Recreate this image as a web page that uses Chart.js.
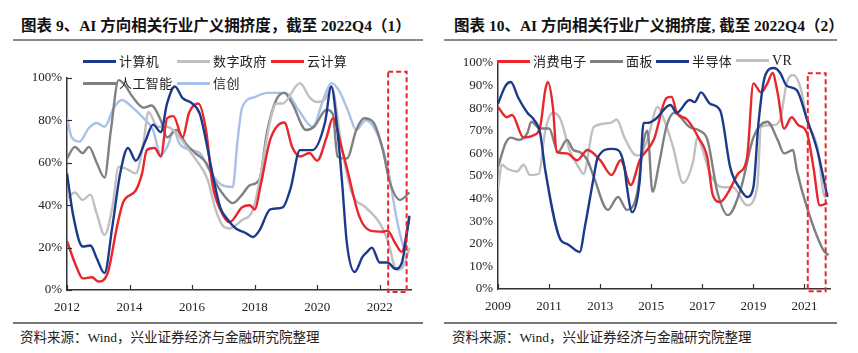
<!DOCTYPE html>
<html>
<head>
<meta charset="utf-8">
<script src="https://cdn.jsdelivr.net/npm/chart.js@4.4.1/dist/chart.umd.min.js"></script>
<style>
  body { margin: 0; background: #fff; }
  #page { position: relative; width: 858px; height: 353px; overflow: hidden; font-family: 'Liberation Serif', 'Noto Sans CJK SC', serif; color: #222; }
  .title { position: absolute; top: 13px; font-size: 15.5px; font-weight: bold; white-space: nowrap; color: #111; }
  .rule { position: absolute; height: 2px; background: #8a8a8a; }
  .src { position: absolute; top: 326px; font-size: 13.5px; white-space: nowrap; color: #222; }
  .box { position: absolute; top: 45px; height: 275px; }
  .leg { position: absolute; font-family: 'Noto Sans CJK SC', sans-serif; font-size: 13px; letter-spacing: 0.4px; white-space: nowrap; line-height: 16px; color: #222; }
  .leg i { display: inline-block; width: 33px; height: 3px; vertical-align: middle; margin-right: 3px; position: relative; top: -1px; }
  .leg.latin { font-family: 'Liberation Serif', serif; font-size: 14px; }
</style>
</head>
<body>
<div id="page">
  <div class="title" style="left:21px">图表 9、AI 方向相关行业广义拥挤度，截至 2022Q4（1）</div>
  <div class="title" style="left:454px">图表 10、AI 方向相关行业广义拥挤度, 截至 2022Q4（2）</div>
  <div class="rule" style="left:13px; width:410px; top:39px"></div>
  <div class="rule" style="left:444px; width:393px; top:39px"></div>

  <div class="box" style="left:0; width:430px"><canvas id="chart1"></canvas></div>
  <div class="box" style="left:430px; width:428px"><canvas id="chart2"></canvas></div>

  <div class="leg" style="left:83px; top:53px"><i style="background:#1B3A8C"></i>计算机</div>
  <div class="leg" style="left:177px; top:53px"><i style="background:#C0C0C0"></i>数字政府</div>
  <div class="leg" style="left:271px; top:53px"><i style="background:#E8262B"></i>云计算</div>
  <div class="leg" style="left:83px; top:75px"><i style="background:#808080"></i>人工智能</div>
  <div class="leg" style="left:177px; top:75px"><i style="background:#A9C1E8"></i>信创</div>

  <div class="leg" style="left:497px; top:53px"><i style="background:#E8262B"></i>消费电子</div>
  <div class="leg" style="left:590px; top:53px"><i style="background:#808080"></i>面板</div>
  <div class="leg" style="left:656px; top:53px"><i style="background:#1B3A8C"></i>半导体</div>
  <div class="leg latin" style="left:736px; top:53px"><i style="background:#C0C0C0"></i>VR</div>

  <div class="rule" style="left:13px; width:410px; top:322px; height:1.5px; background:#777"></div>
  <div class="rule" style="left:444px; width:393px; top:322px; height:1.5px; background:#777"></div>
  <div class="src" style="left:20px">资料来源：Wind，兴业证券经济与金融研究院整理</div>
  <div class="src" style="left:452px">资料来源：Wind，兴业证券经济与金融研究院整理</div>
</div>

<script>
// ---- chart 1 data (year, %) ----
const years1 = [2012, 2014, 2016, 2018, 2020, 2022];
const jsjT = [2012.0, 2012.2, 2012.5, 2012.75, 2012.95, 2013.2, 2013.45, 2013.7, 2013.95, 2014.2, 2014.5, 2014.75, 2015.0, 2015.2, 2015.45, 2015.7, 2016.0, 2016.25, 2016.45, 2016.65, 2016.9, 2017.15, 2017.4, 2017.7, 2017.95, 2018.15, 2018.5, 2018.9, 2019.15, 2019.45, 2019.85, 2020.25, 2020.45, 2020.65, 2020.8, 2020.95, 2021.2, 2021.45, 2021.6, 2021.75, 2022.0, 2022.25, 2022.5, 2022.7, 2022.95];
const jsjV = [55, 35, 20.5, 21, 15, 8, 30, 55, 67, 61, 70, 78, 74.5, 88, 96, 90.5, 88, 83, 70, 55, 39, 33, 29, 27, 25, 28, 38, 39, 48, 66, 66, 79, 96, 75, 50, 22, 8.5, 15.6, 18, 20, 13, 13, 10, 12.5, 35];

const szzfT = [2012.0, 2012.25, 2012.5, 2012.75, 2012.95, 2013.2, 2013.45, 2013.65, 2013.85, 2014.2, 2014.45, 2014.6, 2014.9, 2015.2, 2015.5, 2015.8, 2016.1, 2016.5, 2016.75, 2017.0, 2017.2, 2017.6, 2017.95, 2018.2, 2018.5, 2018.7, 2018.9, 2019.45, 2019.75, 2020.0, 2020.25, 2020.45, 2020.8, 2021.1, 2021.55, 2022.0, 2022.25, 2022.55, 2022.75, 2022.95];
const szzfV = [43, 46, 42.5, 45, 36, 26, 39, 58, 57.5, 55, 70, 84, 77, 77, 74, 68, 62, 52, 38, 30, 29, 33, 38, 55, 80, 88, 88, 97.6, 91, 88.7, 90, 96, 66, 46, 39, 31.6, 23.6, 9.4, 11, 20];

const yjsT = [2012.0, 2012.3, 2012.5, 2012.8, 2013.0, 2013.3, 2013.6, 2013.8, 2014.2, 2014.4, 2014.55, 2014.8, 2015.0, 2015.2, 2015.4, 2015.7, 2015.9, 2016.2, 2016.45, 2016.65, 2016.9, 2017.2, 2017.6, 2017.85, 2018.0, 2018.2, 2018.5, 2018.95, 2019.2, 2019.45, 2019.75, 2020.0, 2020.3, 2020.5, 2020.8, 2020.95, 2021.35, 2021.7, 2022.1, 2022.25, 2022.5, 2022.7, 2022.95];
const yjsV = [23, 11, 5.5, 6, 4, 8, 30, 41.5, 47, 55, 66, 67, 63, 81, 82, 72, 83.5, 88, 75, 50, 38, 32, 39, 40, 38, 50, 71, 79, 67.5, 63, 64.6, 61, 72, 81, 66, 57.5, 34.6, 28, 27.5, 28, 22, 18, 34];

const rgznT = [2012.0, 2012.25, 2012.5, 2012.7, 2012.95, 2013.2, 2013.4, 2013.65, 2013.85, 2014.1, 2014.45, 2014.7, 2015.0, 2015.2, 2015.5, 2015.8, 2016.1, 2016.45, 2016.7, 2017.0, 2017.3, 2017.6, 2017.85, 2018.15, 2018.4, 2018.7, 2018.95, 2019.2, 2019.65, 2019.9, 2020.3, 2020.5, 2020.65, 2020.95, 2021.25, 2021.5, 2021.8, 2022.1, 2022.3, 2022.65, 2022.95];
const rgznV = [62, 67.5, 64.6, 67.5, 60, 53, 75, 99, 96.7, 91, 86, 87, 80, 72, 75.5, 69, 64.6, 60, 52, 45, 41, 45, 49.5, 52, 75, 90, 93, 88, 75.5, 77, 85, 83, 63, 62, 75.5, 81, 79, 66, 52, 42.5, 46];

const xcT = [2012.0, 2012.15, 2012.4, 2012.7, 2012.95, 2013.2, 2013.5, 2013.75, 2014.1, 2014.45, 2014.75, 2015.0, 2015.25, 2015.4, 2015.6, 2015.95, 2016.25, 2016.55, 2016.9, 2017.3, 2017.45, 2017.6, 2018.0, 2018.4, 2019.0, 2019.4, 2019.85, 2020.2, 2020.45, 2020.7, 2021.0, 2021.25, 2021.55, 2022.0, 2022.25, 2022.55, 2022.75, 2022.95];
const xcV = [81.6, 72, 70, 76.4, 78.8, 77, 86, 89.6, 86, 81, 75.5, 63.7, 69, 75.5, 69, 66, 64.6, 56.6, 50, 48.6, 70, 86, 91, 93, 93, 85, 77, 90, 97.6, 94, 84, 75.5, 80, 71, 58, 33, 21, 18];

// ---- chart 2 data (year, %) ----
const years2 = [2009, 2011, 2013, 2015, 2017, 2019, 2021];
const xfdzT = [2009.0, 2009.35, 2009.55, 2010.0, 2010.4, 2010.65, 2010.85, 2010.95, 2011.15, 2011.3, 2011.7, 2012.1, 2012.5, 2013.0, 2013.45, 2013.8, 2014.2, 2014.55, 2015.1, 2015.6, 2015.8, 2016.0, 2016.4, 2016.85, 2017.2, 2017.4, 2017.7, 2018.0, 2018.4, 2018.75, 2019.0, 2019.3, 2019.55, 2019.75, 2019.95, 2020.2, 2020.5, 2020.75, 2021.1, 2021.35, 2021.6, 2021.9];
const xfdzV = [80.5, 76, 77, 67, 68, 71.7, 88, 91.6, 80.5, 60.6, 60, 57, 61.5, 57, 50.4, 57, 46, 57, 66, 84.5, 85, 78, 75, 67, 58, 42, 38.5, 42.5, 51, 58, 91, 87, 91, 95.6, 86.7, 71, 76, 72.6, 69, 54, 37, 38];

const mbT = [2009.0, 2009.3, 2009.5, 2009.8, 2010.15, 2010.3, 2010.65, 2011.0, 2011.35, 2011.7, 2011.95, 2012.2, 2012.5, 2012.75, 2013.3, 2013.7, 2014.05, 2014.45, 2014.7, 2014.85, 2015.05, 2015.3, 2015.6, 2015.9, 2016.5, 2016.9, 2017.2, 2017.6, 2018.0, 2018.5, 2019.0, 2019.55, 2019.95, 2020.2, 2020.55, 2020.7, 2021.1, 2021.75, 2021.95];
const mbV = [54, 64.6, 67, 66, 69, 74, 71, 71, 60.6, 66, 61.5, 60.6, 57, 49.6, 35, 40.7, 35, 42.5, 65, 70, 43, 55, 72, 78, 71.7, 70, 66, 42.5, 32.7, 44, 67, 74, 66, 60, 61.5, 52.6, 36, 17, 15];

const bdtT = [2009.0, 2009.3, 2009.5, 2009.8, 2010.15, 2010.4, 2010.65, 2010.85, 2011.45, 2011.7, 2012.2, 2012.4, 2012.75, 2012.9, 2013.45, 2013.7, 2013.95, 2014.05, 2014.25, 2014.55, 2014.7, 2014.85, 2015.15, 2015.75, 2016.0, 2016.5, 2016.7, 2016.95, 2017.3, 2017.7, 2018.1, 2018.5, 2018.75, 2019.0, 2019.2, 2019.45, 2019.8, 2020.05, 2020.3, 2020.7, 2021.1, 2021.5, 2021.9];
const bdtV = [82, 90, 91.6, 84.5, 78, 75, 69, 52.6, 21.7, 20, 16.4, 27.4, 49.6, 58, 62, 61.5, 54, 45, 34, 48, 73.5, 73.5, 75, 81.4, 78, 83.6, 82.7, 87, 82, 79, 53.5, 44, 40.7, 45, 73.5, 94, 97.8, 95.6, 90, 88, 75, 61.5, 40.7];

const vrT = [2009.0, 2009.15, 2009.4, 2009.75, 2010.0, 2010.25, 2010.6, 2010.85, 2011.15, 2011.45, 2011.8, 2012.15, 2012.35, 2012.75, 2013.4, 2013.65, 2013.95, 2014.3, 2014.5, 2014.85, 2015.25, 2015.5, 2015.85, 2016.25, 2016.65, 2016.8, 2017.0, 2017.3, 2017.8, 2018.2, 2018.75, 2019.15, 2019.3, 2019.8, 2020.05, 2020.3, 2020.55, 2020.85, 2021.1, 2021.5, 2021.8, 2021.95];
const vrV = [44, 55, 53, 52, 55, 50.4, 51, 70, 78, 75, 61.5, 54, 51, 71.7, 73.5, 75, 67, 60, 59, 66, 80.5, 75, 63, 47, 57, 67, 62, 51, 45, 45, 37, 45, 71.7, 72.6, 75, 91, 94.7, 89, 75, 63, 40.7, 42.5];

// highlighted window (x range in years, y range in %)
const box1X = [2022.27, 2022.86], box1Y = [-1, 103];
const box2X = [2021.13, 2021.83], box2Y = [-1, 95.5];

Chart.defaults.font.family = "'Liberation Serif', 'Times New Roman', serif";
Chart.defaults.font.size = 13;
Chart.defaults.color = '#222';

function pts(t, v) {
    return t.map((x, i) => ({ x: x, y: v[i] }));
}

function line(label, t, v, color) {
    return {
        label: label,
        data: pts(t, v),
        borderColor: color,
        backgroundColor: color,
        borderWidth: 2.4,
        pointRadius: 0,
        cubicInterpolationMode: 'monotone'
    };
}

// inward tick marks + red dashed box
const extras = {
    id: 'extras',
    afterDatasetsDraw(chart, args, opts) {
        const ctx = chart.ctx;
        const x = chart.scales.x, y = chart.scales.y;
        ctx.save();
        ctx.strokeStyle = '#333';
        ctx.lineWidth = 1.2;
        x.ticks.forEach(t => {
            const px = Math.round(x.getPixelForValue(t.value)) + 0.5;
            ctx.beginPath();
            ctx.moveTo(px, y.bottom);
            ctx.lineTo(px, y.bottom - 5);
            ctx.stroke();
        });
        if (opts.yTicks) {
            y.ticks.forEach(t => {
                const py = Math.round(y.getPixelForValue(t.value)) + 0.5;
                ctx.beginPath();
                ctx.moveTo(x.left, py);
                ctx.lineTo(x.left + 5, py);
                ctx.stroke();
            });
        }
        const x0 = x.getPixelForValue(opts.boxX[0]), x1 = x.getPixelForValue(opts.boxX[1]);
        const y0 = y.getPixelForValue(opts.boxY[1]), y1 = y.getPixelForValue(opts.boxY[0]);
        ctx.setLineDash([5, 3]);
        ctx.strokeStyle = '#E8262B';
        ctx.lineWidth = 2;
        ctx.strokeRect(x0, y0, x1 - x0, y1 - y0);
        ctx.restore();
    }
};

function makeChart(id, datasets, cfg) {
    return new Chart(document.getElementById(id), {
        type: 'line',
        data: { datasets: datasets },
        options: {
            responsive: true,
            maintainAspectRatio: false,
            animation: false,
            layout: { padding: cfg.padding },
            plugins: {
                legend: { display: false },
                tooltip: { enabled: false },
                extras: { yTicks: cfg.yTicks, boxX: cfg.boxX, boxY: cfg.boxY }
            },
            scales: {
                x: {
                    type: 'linear',
                    min: cfg.xMin,
                    max: cfg.xMax,
                    grid: { display: false, drawTicks: false },
                    border: { color: '#333', width: 1.5 },
                    ticks: { padding: 10, maxRotation: 0, autoSkip: false, callback: v => String(v) },
                    afterBuildTicks: s => { s.ticks = cfg.years.map(v => ({ value: v })); },
                    afterFit: s => { s.height = cfg.xH; }
                },
                y: {
                    min: 0,
                    max: 100,
                    grid: { display: false, drawTicks: false },
                    border: { color: '#333', width: 1.5 },
                    ticks: { stepSize: cfg.yStep, padding: 5, callback: v => v + '%' },
                    afterFit: s => { s.width = cfg.yW; }
                }
            }
        },
        plugins: [extras]
    });
}

makeChart('chart1', [
    line('计算机', jsjT, jsjV, '#1B3A8C'),
    line('云计算', yjsT, yjsV, '#E8262B'),
    line('数字政府', szzfT, szzfV, '#C0C0C0'),
    line('人工智能', rgznT, rgznV, '#808080'),
    line('信创', xcT, xcV, '#A9C1E8')
], { padding: { top: 33, right: 19, left: 0, bottom: 0 }, xMin: 2012, xMax: 2023, years: years1, xH: 30, yW: 67, yStep: 20, yTicks: true, boxX: box1X, boxY: box1Y });

makeChart('chart2', [
    line('半导体', bdtT, bdtV, '#1B3A8C'),
    line('消费电子', xfdzT, xfdzV, '#E8262B'),
    line('面板', mbT, mbV, '#808080'),
    line('VR', vrT, vrV, '#C0C0C0')
], { padding: { top: 18, right: 28, left: 0, bottom: 0 }, xMin: 2009, xMax: 2022, years: years2, xH: 31, yW: 68, yStep: 10, yTicks: false, boxX: box2X, boxY: box2Y });
</script>
</body>
</html>
